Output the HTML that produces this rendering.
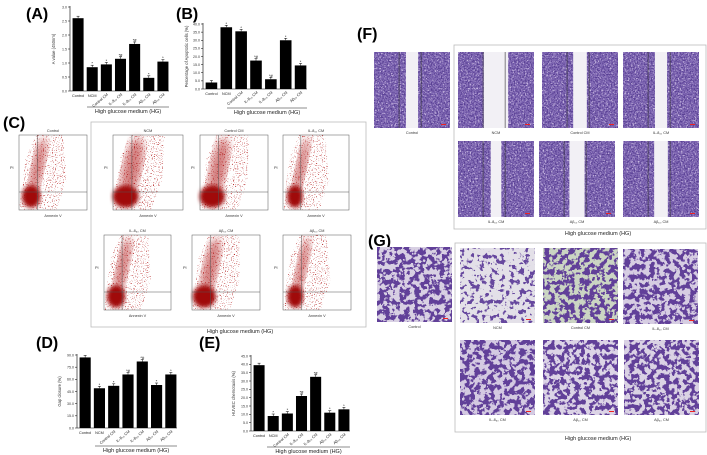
<!DOCTYPE html>
<html><head><meta charset="utf-8"><style>
html,body{margin:0;padding:0;background:#fff;}
svg{display:block;font-family:"Liberation Sans",sans-serif;}
filter{color-interpolation-filters:sRGB;}
</style></head><body>
<svg id="fig" width="707" height="455" viewBox="0 0 707 455">
<defs>
<filter id="tex" x="0" y="0" width="100%" height="100%" color-interpolation-filters="sRGB">
<feTurbulence type="fractalNoise" baseFrequency="0.7" numOctaves="2" seed="3"/>
<feColorMatrix type="matrix" values="0 0 0 0 0.35  0 0 0 0 0.25  0 0 0 0 0.58  0 0 0 6 -2.9"/>
<feComposite in2="SourceGraphic" operator="in"/>
</filter>
<filter id="texl" x="0" y="0" width="100%" height="100%" color-interpolation-filters="sRGB">
<feTurbulence type="fractalNoise" baseFrequency="0.6" numOctaves="2" seed="9"/>
<feColorMatrix type="matrix" values="0 0 0 0 0.78  0 0 0 0 0.72  0 0 0 0 0.88  0 0 0 6 -3.2"/>
<feComposite in2="SourceGraphic" operator="in"/>
</filter>
<filter id="blob" x="0" y="0" width="100%" height="100%" color-interpolation-filters="sRGB">
<feTurbulence type="fractalNoise" baseFrequency="0.2" numOctaves="3" seed="7"/>
<feColorMatrix type="matrix" values="0 0 0 0 0.38  0 0 0 0 0.25  0 0 0 0 0.6  0 0 0 20 -9.6"/>
<feComposite in2="SourceGraphic" operator="in"/>
</filter>
<filter id="blob2" x="0" y="0" width="100%" height="100%" color-interpolation-filters="sRGB">
<feTurbulence type="fractalNoise" baseFrequency="0.2" numOctaves="3" seed="11"/>
<feColorMatrix type="matrix" values="0 0 0 0 0.4  0 0 0 0 0.28  0 0 0 0 0.62  0 0 0 20 -11.2"/>
<feComposite in2="SourceGraphic" operator="in"/>
</filter>
<filter id="blur2"><feGaussianBlur stdDeviation="2"/></filter>
<filter id="blur4"><feGaussianBlur stdDeviation="4"/></filter>
<filter id="spray" x="0" y="0" width="100%" height="100%" color-interpolation-filters="sRGB">
<feTurbulence type="fractalNoise" baseFrequency="0.9" numOctaves="1" seed="2"/>
<feColorMatrix type="matrix" values="0 0 0 0 0.7  0 0 0 0 0.1  0 0 0 0 0.1  0 0 0 8 -4.8"/>
<feComposite in2="SourceGraphic" operator="in"/>
</filter>
</defs>
<g id="root"></g>
</svg>
<script>
// ---- Panel A data ----
const aCategories = ["Control","NCM","Control CM","IL-8₁₀ CM","IL-8₅₀ CM","Aβ₁₀ CM","Aβ₅₀ CM"];
const aValues = [2.6, 0.85, 0.95, 1.15, 1.68, 0.47, 1.05];
const aTicks = ["0.0","0.5","1.0","1.5","2.0","2.5","3.0"];
// ---- Panel B data ----
const bCategories = ["Control","NCM","Control CM","IL-8₁₀ CM","IL-8₅₀ CM","Aβ₁₀ CM","Aβ₅₀ CM"];
const bValues = [4, 38, 35.5, 17.5, 6, 30, 14.5];
const bTicks = ["0.0","5.0","10.0","15.0","20.0","25.0","30.0","35.0","40.0"];
// ---- Panel D data ----
const dCategories = ["Control","NCM","Control CM","IL-8₁₀ CM","IL-8₅₀ CM","Aβ₁₀ CM","Aβ₅₀ CM"];
const dValues = [87, 49, 52, 66, 82, 53, 66];
const dTicks = ["0.0","15.0","30.0","45.0","60.0","75.0","90.0"];
// ---- Panel E data ----
const eCategories = ["Control","NCM","Control CM","IL-8₁₀ CM","IL-8₅₀ CM","Aβ₁₀ CM","Aβ₅₀ CM"];
const eValues = [39.5, 9, 10.5, 21, 32.5, 11, 13];
const eTicks = ["0.0","5.0","10.0","15.0","20.0","25.0","30.0","35.0","40.0","45.0"];

const NS="http://www.w3.org/2000/svg";
const root=document.getElementById('root');
function mk(tag,attrs,parent,text){const e=document.createElementNS(NS,tag);for(const k in attrs)e.setAttribute(k,attrs[k]);if(text!==undefined)e.textContent=text;(parent||root).appendChild(e);return e;}

function panelLabel(t,x,y){
  const e=mk('text',{x:x,y:y,'font-size':16,'font-weight':'bold',fill:'#000'},root,t);
  
  
}
function hgLabel(x,y,name){
  const e=mk('text',{x:x,y:y,'font-size':5.5,'text-anchor':'middle',fill:'#222'},root,'High glucose medium (HG)');
  
  
}

function barChart(id,cats,vals,ticks,max,cfg){
  const g=mk('g',{});
  
  
  const yS=v=>cfg.bottom-(v/max)*(cfg.bottom-cfg.top);
  const step=(cfg.x1-cfg.x0)/cats.length;
  const bw=step*0.78;
  const xS=i=>cfg.x0+step*i+(step-bw)/2+1;
  const ax=mk('line',{x1:cfg.x0,y1:cfg.top-1,x2:cfg.x0,y2:cfg.bottom,stroke:'#000','stroke-width':0.6},g);
  
  
  const xa=mk('line',{x1:cfg.x0,y1:cfg.bottom,x2:cfg.x1,y2:cfg.bottom,stroke:'#000','stroke-width':0.6},g);
  
  
  ticks.forEach((t,i)=>{
    const v=max*i/(ticks.length-1), y=yS(v);
    mk('line',{x1:cfg.x0-2,y1:y,x2:cfg.x0,y2:y,stroke:'#000','stroke-width':0.5},g);
    const tl=mk('text',{x:cfg.x0-3,y:y+1.3,'font-size':3.6,'text-anchor':'end',fill:'#333'},g,t);
    
    
  });
  const yt=mk('text',{x:0,y:0,'font-size':4.2,'text-anchor':'middle',fill:'#333',transform:`translate(${cfg.x0-cfg.titleOff},${(cfg.top+cfg.bottom)/2}) rotate(-90)`},g,cfg.title);
  
  
  vals.forEach((v,i)=>{
    const x=xS(i), y=yS(v);
    const r=mk('rect',{x:x,y:y,width:bw,height:cfg.bottom-y,fill:'#000'},g);
    
    
    mk('line',{x1:x+bw/2,y1:y-2,x2:x+bw/2,y2:y,stroke:'#000','stroke-width':0.5},g);
    mk('line',{x1:x+bw/2-1.5,y1:y-2,x2:x+bw/2+1.5,y2:y-2,stroke:'#000','stroke-width':0.5},g);
    if(i>0){const s=mk('text',{x:x+bw/2,y:y-2.5,'font-size':4,'text-anchor':'middle',fill:'#000'},g,i===3||i===4?'*#':'*');
      
      }
    const cx=x+bw/2;
    const lab=mk('text',{x:0,y:0,'font-size':3.8,'text-anchor':i<2?'middle':'end',fill:'#222',
      transform:i<2?`translate(${cx},${cfg.bottom+6})`:`translate(${cx+2},${cfg.bottom+4}) rotate(-40)`},g,cats[i]);
    
    
  });
  const hl=mk('line',{x1:cfg.hgX0,y1:cfg.hgY,x2:cfg.x1,y2:cfg.hgY,stroke:'#666','stroke-width':0.8},g);
  
  
  hgLabel((cfg.hgX0+cfg.x1)/2,cfg.hgY+6,id+'-hg-label');
}

panelLabel('(A)',26,19);
barChart('a',aCategories,aValues,aTicks,3.0,{x0:70,x1:169,top:7,bottom:91,title:'A value (450nm)',titleOff:15,hgX0:87,hgY:107});
panelLabel('(B)',176,19);
barChart('b',bCategories,bValues,bTicks,40,{x0:203,x1:307,top:24,bottom:89,title:'Percentage of Apoptotic cells (%)',titleOff:15,hgX0:227,hgY:108});
panelLabel('(D)',36,348);
barChart('d',dCategories,dValues,dTicks,90,{x0:77,x1:177,top:355,bottom:428,title:'Gap closure (%)',titleOff:16,hgX0:95,hgY:446});
panelLabel('(E)',199,348);
barChart('e',eCategories,eValues,eTicks,45,{x0:251,x1:350,top:356,bottom:431,title:'HUVEC chemotaxis (%)',titleOff:16,hgX0:267,hgY:447});

// ---- Panel C flow cytometry ----
const cb=mk('rect',{x:91,y:122,width:275,height:205,fill:'none',stroke:'#bbb','stroke-width':0.8});


hgLabel(240,333,'c-hg-label');
const cPlots=[
 ['Control',19,135,68,75,0.8],['NCM',113,135,70,75,1.2],['Control CM',200,135,68,75,1.1],['IL-8₁₀ CM',283,135,66,75,0.7],
 ['IL-8₅₀ CM',104,235,67,75,0.8],['Aβ₁₀ CM',192,235,68,75,1.0],['Aβ₅₀ CM',283,235,68,75,0.7]];
cPlots.forEach((p,i)=>{
  const [name,x,y,w,h,den]=p;
  const g=mk('g',{});
  
  
  mk('rect',{x:x,y:y,width:w,height:h,fill:'#fff'},g);
  mk('path',{d:`M${x} ${y+h} L${x+w*0.1} ${y+h*0.3} L${x+w*0.25} ${y} L${x+w*(0.5+den*0.2)} ${y} L${x+w*0.7} ${y+h*0.6} L${x+w*0.55} ${y+h} Z`,fill:'#fff',filter:'url(#spray)'},g);
  mk('ellipse',{cx:x+w*0.27,cy:y+h*0.45,rx:w*0.11*den,ry:h*0.42,fill:'#b01818',filter:'url(#blur4)',opacity:0.55,transform:`rotate(12 ${x+w*0.27} ${y+h*0.45})`},g);
  mk('ellipse',{cx:x+w*0.18,cy:y+h*0.82,rx:w*0.17*Math.min(den,1.1),ry:h*0.15,fill:'#a00a0a',filter:'url(#blur2)'},g);
  mk('rect',{x:x,y:y,width:w,height:h,fill:'none',stroke:'#555','stroke-width':0.5},g);
  mk('line',{x1:x+w*0.27,y1:y,x2:x+w*0.27,y2:y+h,stroke:'#555','stroke-width':0.5},g);
  mk('line',{x1:x,y1:y+h*0.76,x2:x+w,y2:y+h*0.76,stroke:'#555','stroke-width':0.5},g);
  const t=mk('text',{x:x+w/2,y:y-3,'font-size':3.8,'text-anchor':'middle',fill:'#333'},g,name);
  
  
  const xl=mk('text',{x:x+w/2,y:y+h+7,'font-size':3.8,'text-anchor':'middle',fill:'#333'},g,'Annexin V');
  
  
  const yl=mk('text',{x:x-9,y:y+h*0.45,'font-size':3.8,fill:'#333'},g,'PI');
  
  
});
panelLabel('(C)',3,128);

// ---- Panel F wound healing ----
panelLabel('(F)',357,39);
const fb=mk('rect',{x:454,y:45,width:252,height:184,fill:'none',stroke:'#bbb','stroke-width':0.8});


hgLabel(598,235,'f-hg-label');
const fImgs=[['Control',374,52,0.08],['NCM',458,52,0.16],['Control CM',542,52,0.09],['IL-8₁₀ CM',623,52,0.08],
 ['IL-8₅₀ CM',458,141,0.07],['Aβ₁₀ CM',539,141,0.1],['Aβ₅₀ CM',623,141,0.09]];
fImgs.forEach((p,i)=>{
  const [name,x,y,gap]=p,w=76,h=76;
  const g=mk('g',{});
  
  
  mk('rect',{x:x,y:y,width:w,height:h,fill:'#8068b4'},g);
  mk('rect',{x:x,y:y,width:w,height:h,fill:'#fff',filter:'url(#texl)'},g);
  mk('rect',{x:x,y:y,width:w,height:h,fill:'#fff',filter:'url(#tex)'},g);
  mk('rect',{x:x+w/2-w*gap,y:y,width:w*gap*2,height:h,fill:'#f2f0f5'},g);
  mk('line',{x1:x+w*0.33,y1:y,x2:x+w*0.33,y2:y+h,stroke:'#333','stroke-width':0.6},g);
  mk('line',{x1:x+w*0.62,y1:y,x2:x+w*0.62,y2:y+h,stroke:'#333','stroke-width':0.6},g);
  mk('rect',{x:x+w-9,y:y+h-4,width:5,height:1,fill:'#e22'},g);
  const t=mk('text',{x:x+w/2,y:y+h+6,'font-size':3.8,'text-anchor':'middle',fill:'#333'},g,name);
  
  
});

// ---- Panel G transwell ----
panelLabel('(G)',368,246);
const gb=mk('rect',{x:455,y:243,width:251,height:189,fill:'none',stroke:'#bbb','stroke-width':0.8});


hgLabel(598,440,'g-hg-label');
const gImgs=[['Control',377,247,'#d8d0e3','blob'],['NCM',460,248,'#e3e0e8','blob2'],['Control CM',543,248,'#cbd5c3','blob'],['IL-8₁₀ CM',623,249,'#d6cde2','blob'],
 ['IL-8₅₀ CM',460,340,'#d4cae2','blob'],['Aβ₁₀ CM',543,340,'#dcd4e6','blob'],['Aβ₅₀ CM',624,340,'#dad2e4','blob']];
gImgs.forEach((p,i)=>{
  const [name,x,y,bg,f]=p,w=75,h=75;
  const g=mk('g',{});
  
  
  mk('rect',{x:x,y:y,width:w,height:h,fill:bg},g);
  mk('rect',{x:x,y:y,width:w,height:h,fill:'#fff',filter:`url(#${f})`},g);
  mk('rect',{x:x+w-9,y:y+h-4,width:5,height:1,fill:'#e22'},g);
  const t=mk('text',{x:x+w/2,y:y+h+6,'font-size':3.8,'text-anchor':'middle',fill:'#333'},g,name);
  
  
});
</script>
</body></html>
